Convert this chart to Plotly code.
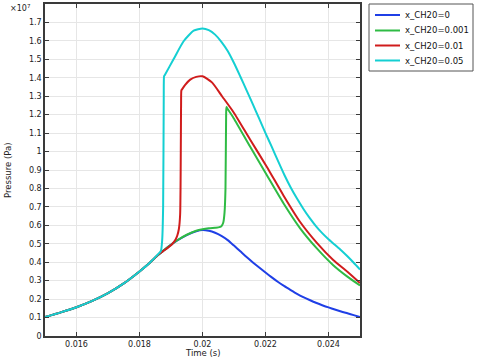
import numpy as np
import plotly.graph_objects as go

# Time (s) and pressure values (in units of 1e7 Pa)
t_0 = [0.0150, 0.0155, 0.0160, 0.0165, 0.0170, 0.0175, 0.0180, 0.0183, 0.0186, 0.0189,
       0.0192, 0.0195, 0.0198, 0.0200, 0.0202, 0.0204, 0.0206, 0.0208, 0.0210, 0.0212,
       0.0214, 0.0216, 0.0218, 0.0220, 0.0222, 0.0224, 0.0226, 0.0228, 0.0230, 0.0232,
       0.0234, 0.0236, 0.0238, 0.0240, 0.0242, 0.0244, 0.0246, 0.0248, 0.0250]
p_0 = [0.103, 0.128, 0.156, 0.190, 0.232, 0.285, 0.350, 0.393, 0.440, 0.482,
       0.518, 0.547, 0.568, 0.575, 0.571, 0.560, 0.543, 0.520, 0.490, 0.459,
       0.428, 0.399, 0.371, 0.344, 0.318, 0.293, 0.270, 0.249, 0.229, 0.211,
       0.195, 0.180, 0.167, 0.155, 0.144, 0.133, 0.123, 0.113, 0.103]

t_001 = [0.0150, 0.0155, 0.0160, 0.0165, 0.0170, 0.0175, 0.0180, 0.0183, 0.0186, 0.0189,
         0.0192, 0.0195, 0.0198, 0.0200, 0.0202, 0.0204, 0.0205, 0.0206, 0.02066, 0.0207,
         0.02073, 0.02075, 0.02076, 0.02079, 0.02099, 0.02151, 0.02204, 0.02257, 0.0231,
         0.02363, 0.02415, 0.0246, 0.0250]
p_001 = [0.103, 0.128, 0.156, 0.190, 0.232, 0.285, 0.350, 0.393, 0.440, 0.482,
         0.519, 0.549, 0.571, 0.579, 0.584, 0.587, 0.589, 0.595, 0.615, 0.670,
         0.800, 1.200, 1.241, 1.233, 1.181, 1.027, 0.873, 0.720, 0.584,
         0.475, 0.384, 0.322, 0.274]

t_01 = [0.0150, 0.0155, 0.0160, 0.0165, 0.0170, 0.0175, 0.0180, 0.0183, 0.0186, 0.0188,
        0.0190, 0.0191, 0.01915, 0.0192, 0.01925, 0.01929, 0.01932, 0.01933, 0.01935, 0.01945,
        0.01961, 0.0198, 0.0200, 0.0203, 0.02062, 0.02099, 0.02151, 0.02204, 0.02257, 0.0231,
        0.02363, 0.02415, 0.0246, 0.0250]
p_01 = [0.103, 0.128, 0.156, 0.190, 0.232, 0.285, 0.350, 0.393, 0.442, 0.466,
        0.492, 0.512, 0.525, 0.545, 0.580, 0.660, 1.250, 1.332, 1.337, 1.362,
        1.390, 1.405, 1.408, 1.375, 1.300, 1.212, 1.065, 0.918, 0.762, 0.618,
        0.505, 0.412, 0.348, 0.287]

t_05 = [0.0150, 0.0155, 0.0160, 0.0165, 0.0170, 0.0175, 0.0180, 0.0183, 0.0186, 0.01868,
        0.01872, 0.01875, 0.01877, 0.01878, 0.01880, 0.01908, 0.0194, 0.01972, 0.0200, 0.0202,
        0.0204, 0.0206, 0.0208, 0.0210, 0.0212, 0.0214, 0.0216, 0.0218, 0.0220, 0.0222,
        0.0224, 0.0226, 0.0228, 0.0230, 0.0232, 0.0234, 0.0236, 0.0238, 0.0240, 0.0242,
        0.0244, 0.0246, 0.0248, 0.0250]
p_05 = [0.103, 0.128, 0.156, 0.190, 0.232, 0.285, 0.350, 0.393, 0.445, 0.462,
        0.520, 0.700, 1.300, 1.408, 1.414, 1.500, 1.598, 1.655, 1.667, 1.658,
        1.634, 1.595, 1.545, 1.480, 1.407, 1.332, 1.256, 1.178, 1.100, 1.025,
        0.948, 0.873, 0.805, 0.745, 0.690, 0.640, 0.596, 0.558, 0.525, 0.495,
        0.465, 0.432, 0.397, 0.360]

names = ["x_CH20=0", "x_CH20=0.001", "x_CH20=0.01", "x_CH20=0.05"]
colors = ["#1f3fe6", "#2fbb44", "#d01c1c", "#14cfd2"]

x_ticks = [0.016, 0.018, 0.020, 0.022, 0.024]
x_ticklabels = ["0.016", "0.018", "0.02", "0.022", "0.024"]
y_ticks_e7 = [round(0.1 * i, 1) for i in range(18)]
y_ticklabels = ["0", "0.1", "0.2", "0.3", "0.4", "0.5", "0.6", "0.7", "0.8", "0.9",
                "1", "1.1", "1.2", "1.3", "1.4", "1.5", "1.6", "1.7"]

SCALE = 1e7
series = [(t_0, p_0), (t_001, p_001), (t_01, p_01), (t_05, p_05)]

W, H = 482, 364
ML, MR, MT, MB = 45, 122, 4, 28
PW, PH = W - ML - MR, H - MT - MB


def px(x):
    return (x - ML) / PW


def py(y):
    return (H - MB - y) / PH


fig = go.Figure()
for (t, p), name, c in zip(series, names, colors):
    fig.add_trace(go.Scatter(x=t, y=np.array(p) * SCALE, mode="lines", name=name,
                             line=dict(color=c, width=2, shape="spline", smoothing=0.6),
                             showlegend=False))

font = "DejaVu Sans"
axis_common = dict(showline=True, linecolor="#3a3a3a", linewidth=1.5, mirror="ticks",
                   ticks="inside", ticklen=4, tickcolor="#3a3a3a",
                   showgrid=True, gridcolor="#e6e6e6", gridwidth=1, zeroline=False,
                   automargin=False,
                   tickfont=dict(family=font, size=8, color="#222"))

fig.update_xaxes(range=[0.015, 0.025], tickvals=x_ticks, ticktext=x_ticklabels, **axis_common)
fig.update_yaxes(range=[0, 1.8 * SCALE], tickvals=[v * SCALE for v in y_ticks_e7],
                 ticktext=y_ticklabels, **axis_common)

# axis titles and exponent
fig.add_annotation(text="Time (s)", xref="paper", yref="paper", x=px(203), y=py(353),
                   xanchor="center", yanchor="middle", showarrow=False,
                   font=dict(family=font, size=8.5, color="#222"))
fig.add_annotation(text="Pressure (Pa)", xref="paper", yref="paper", x=px(8), y=py(170),
                   xanchor="center", yanchor="middle", showarrow=False, textangle=-90,
                   font=dict(family=font, size=8.5, color="#222"))
fig.add_annotation(text="×10<sup>7</sup>", xref="paper", yref="paper", x=px(8), y=py(8),
                   xanchor="left", yanchor="middle", showarrow=False,
                   font=dict(family=font, size=8, color="#222"))

# legend (drawn box, sample lines and labels)
shapes = [dict(type="rect", xref="paper", yref="paper", x0=px(369), x1=px(473),
               y0=py(71), y1=py(4), line=dict(color="#555", width=1), fillcolor="white")]
legend_y = [15, 30.5, 45.5, 60.5]
for yy, name, c in zip(legend_y, names, colors):
    shapes.append(dict(type="line", xref="paper", yref="paper", x0=px(375), x1=px(400),
                       y0=py(yy), y1=py(yy), line=dict(color=c, width=2)))
    fig.add_annotation(text=name, xref="paper", yref="paper", x=px(403), y=py(yy),
                       xanchor="left", yanchor="middle", showarrow=False,
                       font=dict(family=font, size=8.5, color="#111"))

fig.update_layout(
    width=W, height=H,
    margin=dict(l=ML, r=MR, t=MT, b=MB),
    paper_bgcolor="white", plot_bgcolor="white",
    showlegend=False,
    shapes=shapes,
)

fig.write_html("out.html", config={"displayModeBar": False},
               post_script="document.body.style.margin='0';")
